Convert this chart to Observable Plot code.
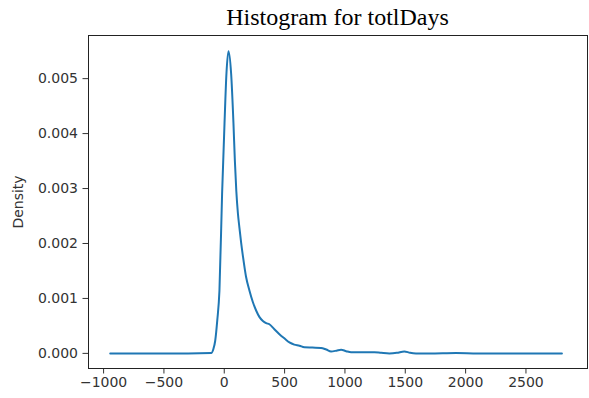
<!DOCTYPE html>
<html>
<head>
<meta charset="utf-8">
<script src="https://cdn.jsdelivr.net/npm/d3@7"></script>
<script src="https://cdn.jsdelivr.net/npm/@observablehq/plot@0.6"></script>
<style>
  html, body { margin: 0; padding: 0; background: #fff; }
  #title { width: 589px; height: 30px; text-align: center; padding-left: 86px; box-sizing: border-box;
           font-family: "Liberation Serif", "Times New Roman", serif; font-size: 24px; line-height: 34px; color: #000; }
</style>
</head>
<body>
<div id="title">Histogram for totlDays</div>
<div id="chart"></div>
<script>
const days = [-945, -300, -108, -90, -75, -58, -40, -18, 2, 18, 35, 57, 76, 88, 100, 113, 126, 140, 154, 180, 209, 236, 264, 292, 320, 347, 374, 415, 457, 500, 540, 580, 623, 664, 730, 802, 845, 885, 930, 968, 1010, 1051, 1150, 1244, 1300, 1368, 1430, 1492, 1540, 1589, 1700, 1920, 2100, 2400, 2798];
const density = [0, 0, 0.000005, 0.00008, 0.00023, 0.0006, 0.00114, 0.0029, 0.00418, 0.00509, 0.0055, 0.00509, 0.0042, 0.0035, 0.00295, 0.00255, 0.00228, 0.00201, 0.00178, 0.0014, 0.00114, 0.00094, 0.00078, 0.00066, 0.00059, 0.00055, 0.00053, 0.00044, 0.00035, 0.00027, 0.0002, 0.00016, 0.00014, 0.00011, 0.000105, 0.0001, 0.00007, 0.000036, 0.00005, 0.000067, 0.00004, 0.00002, 0.00002, 0.00002, 0.00001, 0.0, 0.00001, 0.000036, 0.00001, 0.0, 0.0, 0.000008, 0.0, 0.0, 0.0];
const xTicks = [-1000, -500, 0, 500, 1000, 1500, 2000, 2500];
const yTicks = [0, 0.001, 0.002, 0.003, 0.004, 0.005];

const data = days.map((d, i) => ({days: d, density: density[i]}));

const chart = Plot.plot({
  width: 589,
  height: 368,
  marginTop: 5,
  marginBottom: 30,
  marginLeft: 88,
  marginRight: 2,
  style: {fontFamily: "DejaVu Sans", fontSize: "14px", color: "#333", background: "#fff"},
  x: {domain: [-1125, 3010]},
  y: {domain: [-0.000275, 0.005785]},
  marks: [
    Plot.axisX({ticks: xTicks, tickFormat: d3.format("d"), tickSize: 5.5, tickPadding: 3.5, label: null}),
    Plot.axisY({ticks: yTicks, tickFormat: d3.format(".3f"), tickSize: 5.5, tickPadding: 5,
                label: "Density", labelAnchor: "center", labelArrow: "none", labelOffset: 75}),
    Plot.line(data, {x: "days", y: "density", stroke: "#1f77b4", strokeWidth: 2, curve: "monotone-x"}),
    Plot.frame({stroke: "#222", strokeWidth: 1})
  ]
});
document.getElementById("chart").appendChild(chart);
</script>
</body>
</html>
